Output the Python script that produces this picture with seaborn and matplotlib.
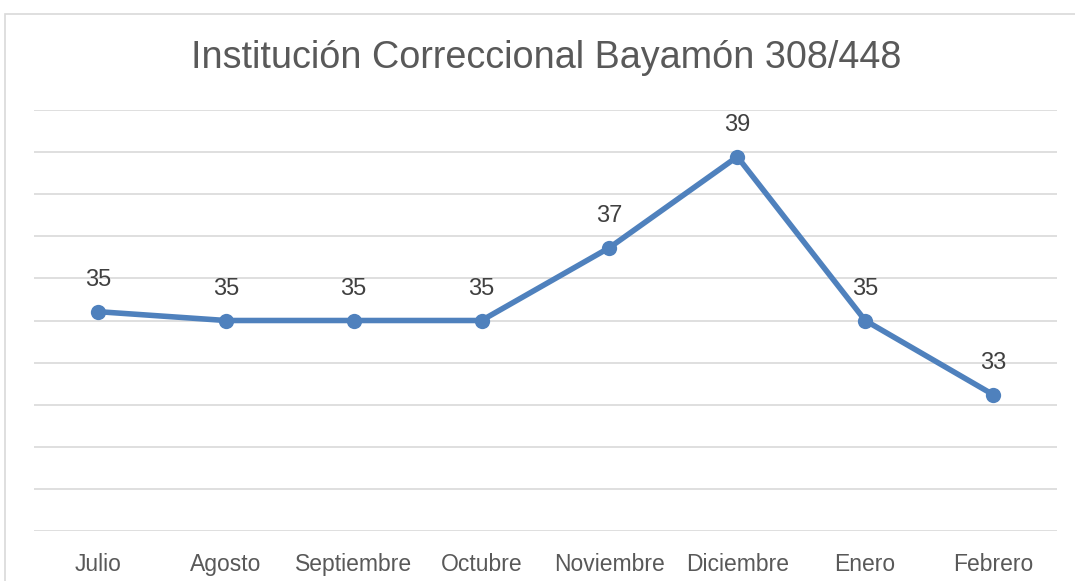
import matplotlib
matplotlib.use("Agg")
import matplotlib.pyplot as plt
from matplotlib.patches import Rectangle
import pandas as pd
import seaborn as sns

# Monthly values
MONTHS = ['Julio', 'Agosto', 'Septiembre', 'Octubre', 'Noviembre', 'Diciembre', 'Enero', 'Febrero']
VALUES = [35.21, 35.0, 35.0, 35.0, 36.73, 38.89, 35.0, 33.24]
TITLE = 'Institución Correccional Bayamón 308/448'

LINE_COLOR = '#4F81BD'
GRID_COLOR = '#D9D9D9'
TEXT_COLOR = '#595959'

sns.set_style("white")
plt.rcParams['font.family'] = ['Liberation Sans', 'DejaVu Sans']

df = pd.DataFrame({'mes': MONTHS, 'valor': VALUES})

fig = plt.figure(figsize=(10.75, 5.81), dpi=100)
ax = fig.add_axes([34 / 1075, 1 - 531 / 581, (1057 - 34) / 1075, (531 - 110) / 581])

sns.lineplot(data=df, x='mes', y='valor', ax=ax, sort=False, color=LINE_COLOR,
             linewidth=4, marker='o', markersize=11, markeredgewidth=0)

# data labels
for i, v in enumerate(VALUES):
    ax.annotate(f"{v:.0f}", (i, v), xytext=(0, 22.5), textcoords='offset points',
                ha='center', va='center', fontsize=17, color='#404040')

ax.set_xlim(-0.5, len(MONTHS) - 0.5)
ax.set_ylim(30, 40)
ax.set_yticks(range(30, 41))
ax.yaxis.grid(True, color=GRID_COLOR, linewidth=1.2)
ax.set_axisbelow(True)
ax.tick_params(axis='y', left=False, labelleft=False)
ax.tick_params(axis='x', bottom=False, pad=12, labelsize=16.5, labelcolor=TEXT_COLOR)
ax.set_xlabel('')
ax.set_ylabel('')
for s in ax.spines.values():
    s.set_visible(False)

fig.text(546 / 1075, 1 - 58 / 581, TITLE, ha='center', va='center',
         fontsize=27.2, color=TEXT_COLOR)

# chart area border (cropped on right and bottom)
fig.patches.append(Rectangle((5.5 / 1075, -0.1), 1.2, (581 - 13.5) / 581 + 0.1,
                             transform=fig.transFigure, fill=False,
                             edgecolor=GRID_COLOR, linewidth=1.2))

fig.savefig('out.png', dpi=100)
plt.close(fig)
